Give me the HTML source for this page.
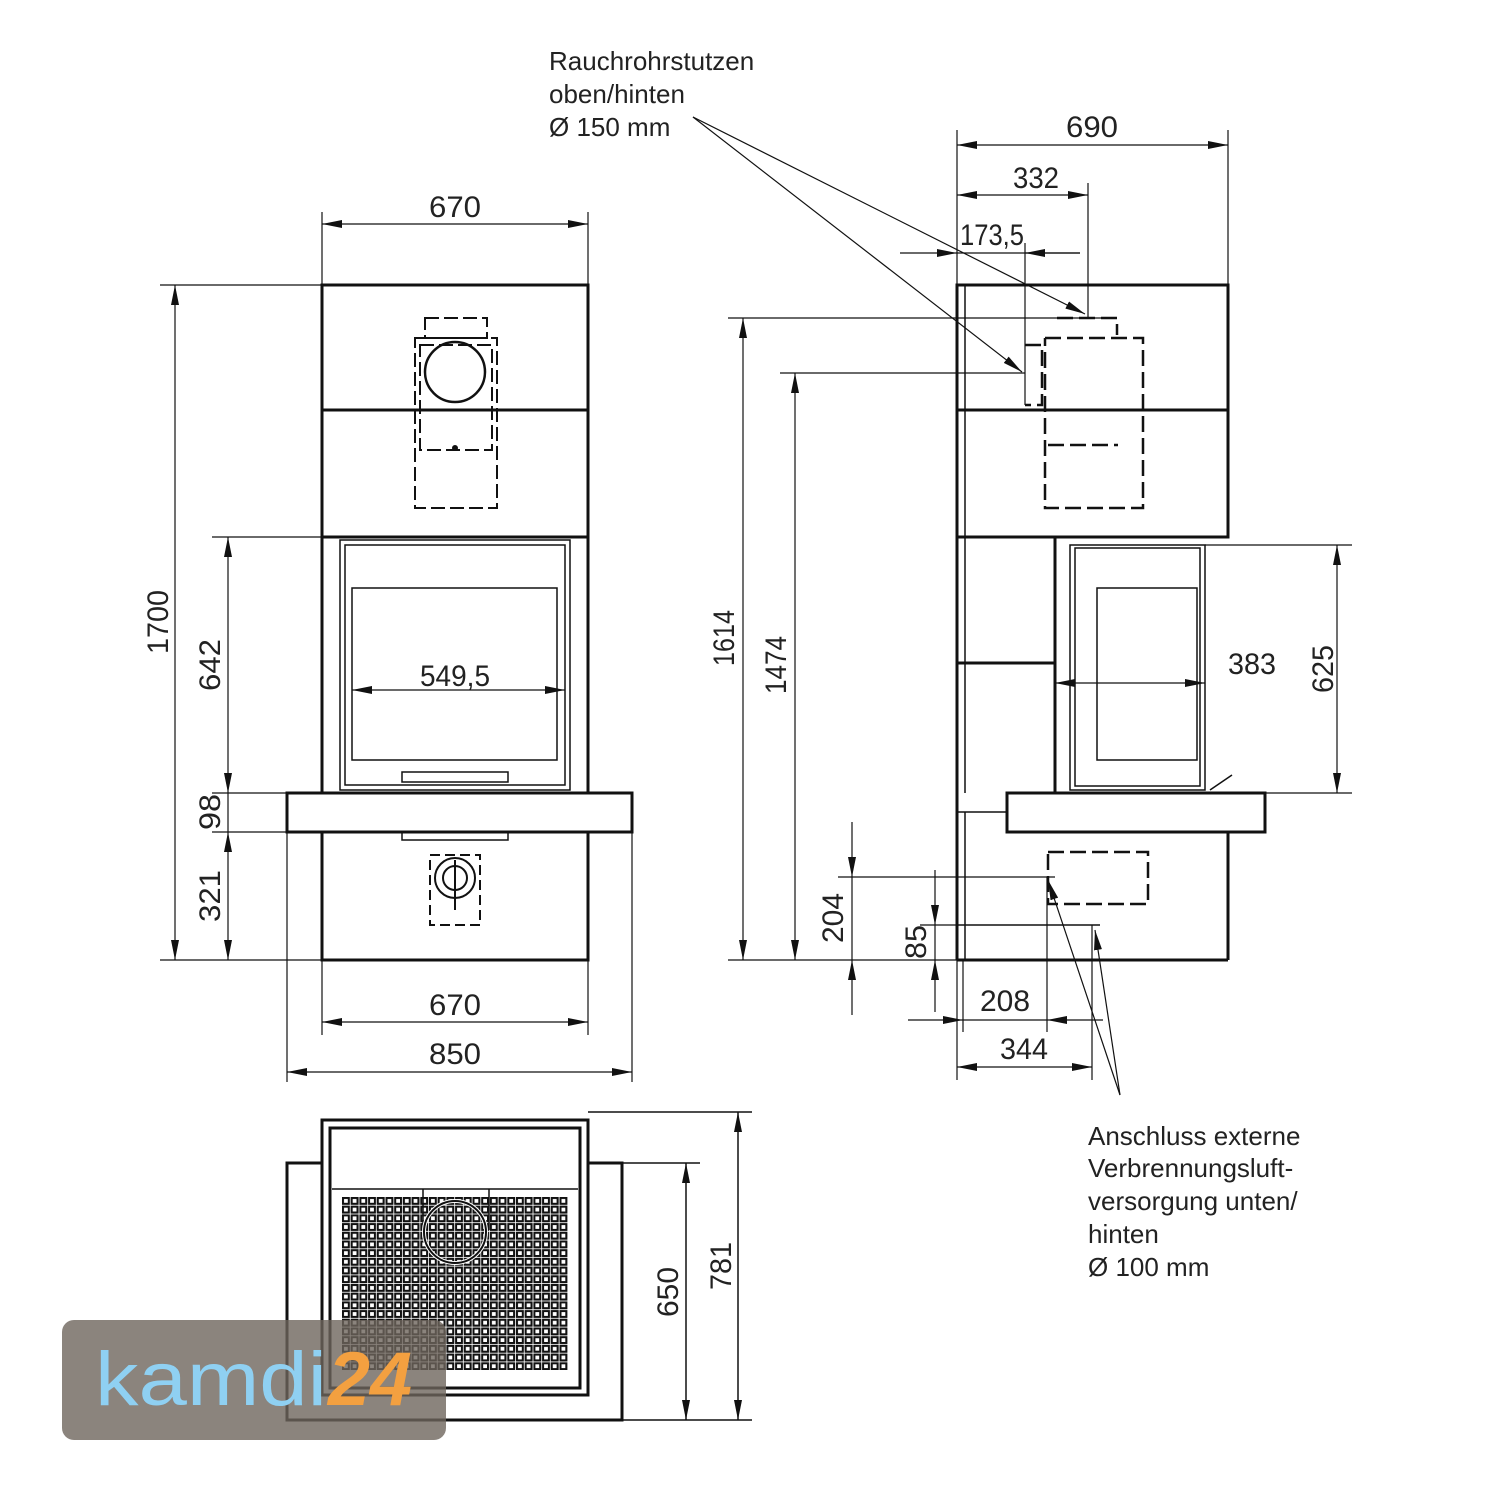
<!DOCTYPE html>
<html><head><meta charset="utf-8"><style>html,body{margin:0;padding:0;background:#fff}svg{display:block}</style></head>
<body>
<svg width="1500" height="1500" viewBox="0 0 1500 1500" xmlns="http://www.w3.org/2000/svg" font-family="Liberation Sans, sans-serif">
<defs>
<marker id="a" viewBox="0 0 20 8" refX="20" refY="4" markerWidth="20" markerHeight="8" markerUnits="userSpaceOnUse" orient="auto-start-reverse"><path d="M0,0L20,4L0,8z" fill="#111"/></marker>
<pattern id="g" x="342" y="1197" width="8.7" height="8.7" patternUnits="userSpaceOnUse"><rect width="8.7" height="8.7" fill="#111"/><rect x="2" y="2" width="3.8" height="3.8" fill="#fff"/><rect x="7.9" y="0" width="0.8" height="8.7" fill="#fff"/><rect x="0" y="7.9" width="8.7" height="0.8" fill="#fff"/></pattern>
</defs>
<g stroke="#111" fill="none">
<g stroke-width="3">
<rect x="322" y="285" width="266" height="252"/>
<line x1="322" y1="410" x2="588" y2="410"/>
<rect x="322" y="537" width="266" height="256"/>
<rect x="287" y="793" width="345" height="39"/>
<rect x="322" y="832" width="266" height="128"/>
</g>
<g stroke-width="1.5">
<rect x="340" y="540" width="230" height="250"/>
<rect x="345" y="545" width="220" height="240"/>
<rect x="352" y="588" width="205" height="172"/>
<rect x="402" y="772" width="106" height="10"/>
<rect x="402" y="832" width="106" height="8"/>
</g>
<g stroke-width="2" stroke-dasharray="14 5">
<rect x="415" y="338" width="82" height="170"/>
<rect x="425" y="318" width="62" height="20"/>
<rect x="420" y="345" width="72" height="105"/>
</g>
<circle cx="455" cy="372" r="30" stroke-width="2.5"/>
<circle cx="455" cy="448" r="2.5" fill="#111"/>
<g stroke-width="2"><circle cx="455" cy="878" r="20"/><circle cx="455" cy="878" r="12"/>
<rect x="430" y="855" width="50" height="70" stroke-dasharray="10 5"/>
<line x1="455" y1="860" x2="455" y2="910"/></g>
<g stroke-width="1.2">
<line x1="322" y1="212" x2="322" y2="285"/><line x1="588" y1="212" x2="588" y2="285"/>
<line x1="322" y1="224" x2="588" y2="224" marker-start="url(#a)" marker-end="url(#a)"/>
<line x1="160" y1="285" x2="322" y2="285"/><line x1="160" y1="960" x2="322" y2="960"/>
<line x1="175" y1="285" x2="175" y2="960" marker-start="url(#a)" marker-end="url(#a)"/>
<line x1="212" y1="537" x2="322" y2="537"/><line x1="212" y1="793" x2="287" y2="793"/><line x1="212" y1="832" x2="287" y2="832"/>
<line x1="228" y1="537" x2="228" y2="793" marker-start="url(#a)" marker-end="url(#a)"/>
<line x1="228" y1="793" x2="228" y2="832"/>
<line x1="228" y1="832" x2="228" y2="960" marker-start="url(#a)" marker-end="url(#a)"/>
<line x1="352" y1="690" x2="565" y2="690" marker-start="url(#a)" marker-end="url(#a)"/>
<line x1="322" y1="960" x2="322" y2="1035"/><line x1="588" y1="960" x2="588" y2="1035"/>
<line x1="322" y1="1022" x2="588" y2="1022" marker-start="url(#a)" marker-end="url(#a)"/>
<line x1="287" y1="832" x2="287" y2="1082"/><line x1="632" y1="832" x2="632" y2="1082"/>
<line x1="287" y1="1072" x2="632" y2="1072" marker-start="url(#a)" marker-end="url(#a)"/>
</g>
<g stroke-width="3">
<rect x="957" y="285" width="271" height="252"/>
<line x1="957" y1="410" x2="1228" y2="410"/>
<line x1="957" y1="537" x2="957" y2="960"/>
<line x1="957" y1="537" x2="1055" y2="537"/>
<line x1="1055" y1="537" x2="1055" y2="793"/>
<line x1="957" y1="663" x2="1055" y2="663"/>
<rect x="1007" y="793" width="258" height="39"/>
<line x1="1228" y1="832" x2="1228" y2="960"/>
<line x1="957" y1="960" x2="1228" y2="960"/>
</g>
<g stroke-width="1.5">
<line x1="965" y1="285" x2="965" y2="793"/>
<line x1="965" y1="812" x2="965" y2="960"/>
<line x1="957" y1="812" x2="1007" y2="812"/>
<rect x="1070" y="545" width="135" height="245"/>
<rect x="1075" y="548" width="125" height="238"/>
<rect x="1097" y="588" width="100" height="172"/>
<line x1="957" y1="925" x2="1100" y2="925"/>
<line x1="1210" y1="790" x2="1232" y2="775"/>
</g>
<g stroke-width="2.5" stroke-dasharray="16 6">
<path d="M1045 338H1143V508H1045V338"/>
<path d="M1057 318H1117V335"/>
<path d="M1025 345H1042V405H1025"/>
<path d="M1048 445H1118"/>
<rect x="1048" y="852" width="100" height="52"/>
</g>
<g stroke-width="1.2">
<line x1="957" y1="130" x2="957" y2="285"/><line x1="1228" y1="130" x2="1228" y2="285"/>
<line x1="957" y1="145" x2="1228" y2="145" marker-start="url(#a)" marker-end="url(#a)"/>
<line x1="1088" y1="183" x2="1088" y2="318"/>
<line x1="957" y1="195" x2="1088" y2="195" marker-start="url(#a)" marker-end="url(#a)"/>
<line x1="1025" y1="243" x2="1025" y2="405"/>
<line x1="900" y1="253" x2="957" y2="253" marker-end="url(#a)"/>
<line x1="957" y1="253" x2="1080" y2="253"/>
<line x1="1025" y1="253" x2="1080" y2="253" marker-start="url(#a)"/>
<line x1="728" y1="318" x2="1117" y2="318"/>
<line x1="780" y1="373" x2="1025" y2="373"/>
<line x1="728" y1="960" x2="957" y2="960"/>
<line x1="743" y1="318" x2="743" y2="960" marker-start="url(#a)" marker-end="url(#a)"/>
<line x1="795" y1="373" x2="795" y2="960" marker-start="url(#a)" marker-end="url(#a)"/>
<line x1="1205" y1="545" x2="1352" y2="545"/><line x1="1265" y1="793" x2="1352" y2="793"/>
<line x1="1337" y1="545" x2="1337" y2="793" marker-start="url(#a)" marker-end="url(#a)"/>
<line x1="1055" y1="683" x2="1205" y2="683" marker-start="url(#a)" marker-end="url(#a)"/>
<line x1="838" y1="877" x2="1055" y2="877"/>
<line x1="852" y1="822" x2="852" y2="877" marker-end="url(#a)"/>
<line x1="852" y1="877" x2="852" y2="960"/>
<line x1="852" y1="1015" x2="852" y2="960" marker-end="url(#a)"/>
<line x1="920" y1="925" x2="957" y2="925"/>
<line x1="935" y1="870" x2="935" y2="925" marker-end="url(#a)"/>
<line x1="935" y1="1012" x2="935" y2="960" marker-end="url(#a)"/>
<line x1="935" y1="925" x2="935" y2="960"/>
<line x1="963" y1="960" x2="963" y2="1032"/><line x1="1047" y1="877" x2="1047" y2="1032"/>
<line x1="908" y1="1020" x2="963" y2="1020" marker-end="url(#a)"/>
<line x1="963" y1="1020" x2="1047" y2="1020"/>
<line x1="1103" y1="1020" x2="1047" y2="1020" marker-end="url(#a)"/>
<line x1="957" y1="960" x2="957" y2="1080"/><line x1="1092" y1="925" x2="1092" y2="1080"/>
<line x1="957" y1="1067" x2="1092" y2="1067" marker-start="url(#a)" marker-end="url(#a)"/>
<line x1="693" y1="117" x2="1085" y2="314" marker-end="url(#a)"/>
<line x1="693" y1="117" x2="1022" y2="372" marker-end="url(#a)"/>
<line x1="1120" y1="1095" x2="1048" y2="880" marker-end="url(#a)"/>
<line x1="1120" y1="1095" x2="1095" y2="930" marker-end="url(#a)"/>
</g>
<g stroke-width="3">
<rect x="287" y="1163" width="335" height="257"/>
<rect x="322" y="1120" width="266" height="275" fill="#fff"/>
<rect x="330" y="1128" width="250" height="260"/>
</g>
<rect x="342" y="1197" width="226" height="173" fill="url(#g)" stroke="none"/>
<g stroke-width="1.5">
<line x1="332" y1="1189" x2="578" y2="1189"/>
<line x1="423" y1="1189" x2="423" y2="1230"/><line x1="489" y1="1189" x2="489" y2="1230"/>
<line x1="588" y1="1112" x2="752" y2="1112"/><line x1="622" y1="1163" x2="700" y2="1163"/><line x1="622" y1="1420" x2="752" y2="1420"/>
<line x1="686" y1="1163" x2="686" y2="1420" marker-start="url(#a)" marker-end="url(#a)"/>
<line x1="738" y1="1112" x2="738" y2="1420" marker-start="url(#a)" marker-end="url(#a)"/>
</g>
<circle cx="455" cy="1232" r="31" stroke="#fff" stroke-width="4"/>
<circle cx="455" cy="1232" r="31" stroke="#111" stroke-width="2"/>
</g>
<g fill="#222" font-size="30" text-anchor="middle">
<text x="455" y="217" textLength="52" lengthAdjust="spacingAndGlyphs">670</text>
<text x="455" y="686" textLength="70" lengthAdjust="spacingAndGlyphs">549,5</text>
<text x="455" y="1015" textLength="52" lengthAdjust="spacingAndGlyphs">670</text>
<text x="455" y="1064" textLength="52" lengthAdjust="spacingAndGlyphs">850</text>
<text transform="translate(168,622) rotate(-90)" textLength="64" lengthAdjust="spacingAndGlyphs">1700</text>
<text transform="translate(220,665) rotate(-90)" textLength="52" lengthAdjust="spacingAndGlyphs">642</text>
<text transform="translate(220,812) rotate(-90)" textLength="36" lengthAdjust="spacingAndGlyphs">98</text>
<text transform="translate(220,896) rotate(-90)" textLength="52" lengthAdjust="spacingAndGlyphs">321</text>
<text x="1092" y="137" textLength="52" lengthAdjust="spacingAndGlyphs">690</text>
<text x="1036" y="188" textLength="46" lengthAdjust="spacingAndGlyphs">332</text>
<text x="992" y="245" textLength="64" lengthAdjust="spacingAndGlyphs">173,5</text>
<text x="1252" y="674" textLength="48" lengthAdjust="spacingAndGlyphs">383</text>
<text transform="translate(1333,669) rotate(-90)" textLength="48" lengthAdjust="spacingAndGlyphs">625</text>
<text transform="translate(734,638) rotate(-90)" textLength="56" lengthAdjust="spacingAndGlyphs">1614</text>
<text transform="translate(786,665) rotate(-90)" textLength="58" lengthAdjust="spacingAndGlyphs">1474</text>
<text transform="translate(843,918) rotate(-90)" textLength="50" lengthAdjust="spacingAndGlyphs">204</text>
<text transform="translate(926,942) rotate(-90)" textLength="34" lengthAdjust="spacingAndGlyphs">85</text>
<text x="1005" y="1011" textLength="50" lengthAdjust="spacingAndGlyphs">208</text>
<text x="1024" y="1059" textLength="48" lengthAdjust="spacingAndGlyphs">344</text>
<text transform="translate(678,1292) rotate(-90)" textLength="50" lengthAdjust="spacingAndGlyphs">650</text>
<text transform="translate(731,1266) rotate(-90)" textLength="48" lengthAdjust="spacingAndGlyphs">781</text>
</g>
<g fill="#222" font-size="26">
<text x="549" y="70">Rauchrohrstutzen</text>
<text x="549" y="103">oben/hinten</text>
<text x="549" y="136">Ø 150 mm</text>
<text x="1088" y="1145">Anschluss externe</text>
<text x="1088" y="1177">Verbrennungsluft-</text>
<text x="1088" y="1210">versorgung unten/</text>
<text x="1088" y="1243">hinten</text>
<text x="1088" y="1276">Ø 100 mm</text>
</g>
<rect x="62" y="1320" width="384" height="120" rx="12" fill="#6e655c" opacity="0.8"/>
<text x="95" y="1405" font-size="76" fill="#8fd0f2" textLength="232" lengthAdjust="spacingAndGlyphs">kamdi</text>
<text x="328" y="1405" font-size="76" font-weight="bold" font-style="italic" fill="#f3a040" textLength="84" lengthAdjust="spacingAndGlyphs">24</text>
</svg>
</body></html>
